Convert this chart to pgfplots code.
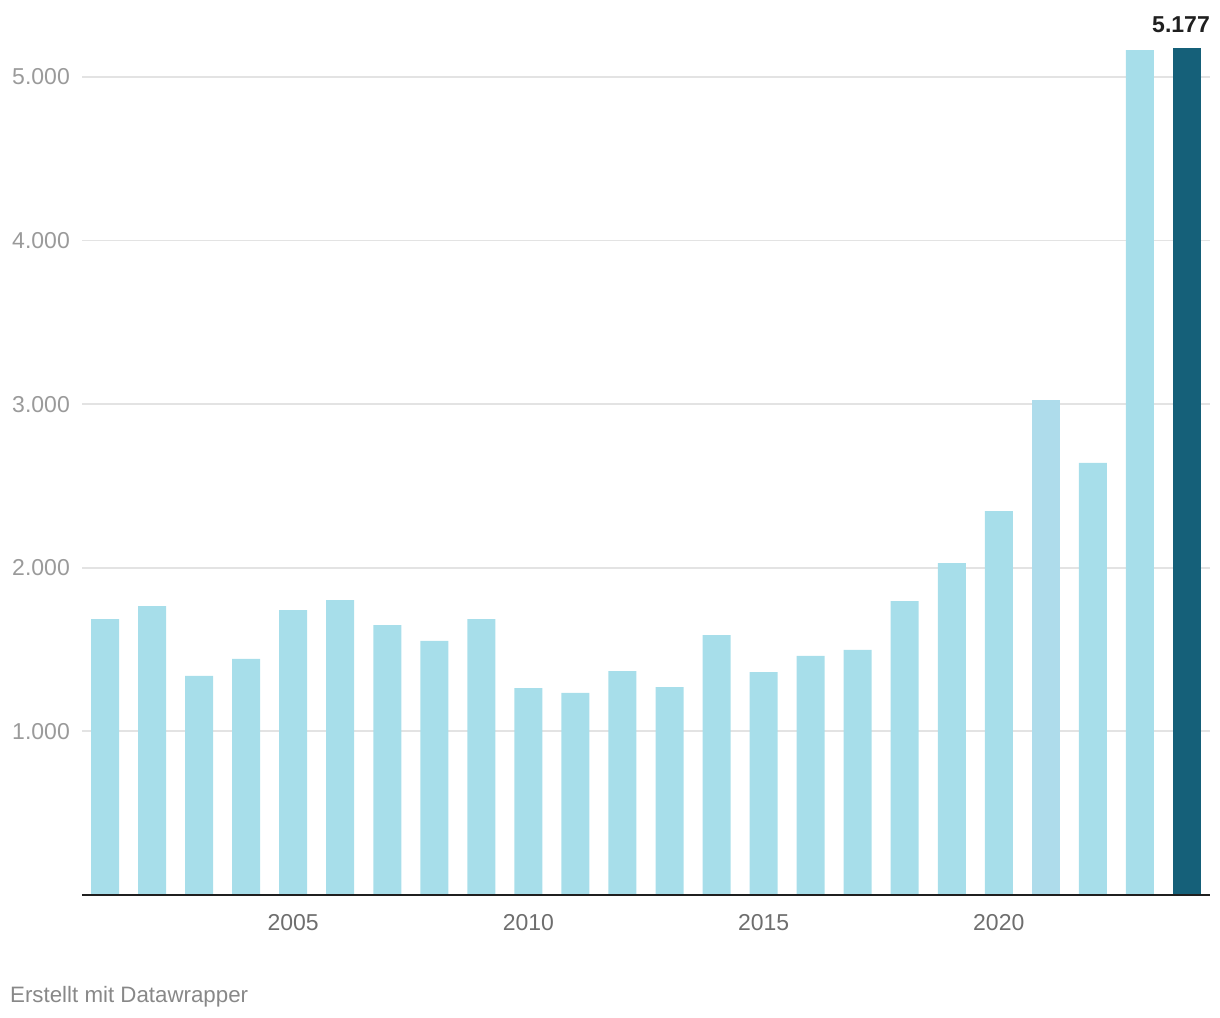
\documentclass[border=0pt]{standalone}
\usepackage{pgfplots}
\pgfplotsset{compat=1.18}
\usepackage{fontspec}
\setmainfont{Liberation Sans}

\definecolor{barLight}{HTML}{A7DEEA}
\definecolor{barMid}{HTML}{AEDCEB}
\definecolor{barDark}{HTML}{156079}
\definecolor{gridGray}{HTML}{E3E3E3}
\definecolor{ytickGray}{HTML}{9A9A9A}
\definecolor{xtickGray}{HTML}{6E6E6E}
\definecolor{noteGray}{HTML}{888888}

\begin{document}
\begin{tikzpicture}
% fixed page: 1220 x 1018, axis box lower left at pixel (82,895)
\path[use as bounding box] (-82bp,-123bp) rectangle (1138bp,895bp);

\begin{axis}[
  at={(0,0)}, anchor=south west,
  scale only axis,
  width=1128bp, height=850.72bp,
  xmin=2000.51, xmax=2024.49,
  ymin=0, ymax=5200,
  axis line style={draw=none},
  tick style={draw=none},
  ytick={1000,2000,3000,4000,5000},
  yticklabels={1.000,2.000,3.000,4.000,5.000},
  xtick={2005,2010,2015,2020},
  xticklabels={2005,2010,2015,2020},
  ymajorgrids,
  major grid style={gridGray, line width=1.8bp},
  yticklabel style={font=\fontsize{23bp}{27bp}\selectfont, text=ytickGray,
                    anchor=east, inner sep=0pt, xshift=-12bp},
  xticklabel style={font=\fontsize{23bp}{27bp}\selectfont, text=xtickGray,
                    anchor=north, inner sep=0pt, yshift=-15bp},
  ybar, bar width=28bp, bar shift=0pt,
  clip=false,
]

\addplot[fill=barLight, draw=none] coordinates {
  (2001,1687) (2002,1766) (2003,1339) (2004,1443) (2005,1742)
  (2006,1803) (2007,1650) (2008,1553) (2009,1687) (2010,1265)
  (2011,1235) (2012,1369) (2013,1271) (2014,1589) (2015,1363)
  (2016,1461) (2017,1498) (2018,1797) (2019,2029) (2020,2347)
  (2022,2641) (2023,5165)
};
\addplot[fill=barMid, draw=none] coordinates {(2021,3026)};
\addplot[fill=barDark, draw=none] coordinates {(2024,5177)};

% baseline
\draw[black!88, line width=2bp] (rel axis cs:0,0) -- (rel axis cs:1,0);

% value label of the last bar
\node[anchor=base east, inner sep=0pt, yshift=16bp, text=black!88,
      font=\fontsize{23bp}{27bp}\selectfont\bfseries]
  at (axis cs:2024.49,5177) {5.177};

\end{axis}

\node[anchor=base west, inner sep=0pt, text=noteGray,
      font=\fontsize{22.3bp}{26bp}\selectfont] at (-72bp,-107bp) {Erstellt mit Datawrapper};
\end{tikzpicture}
\end{document}
